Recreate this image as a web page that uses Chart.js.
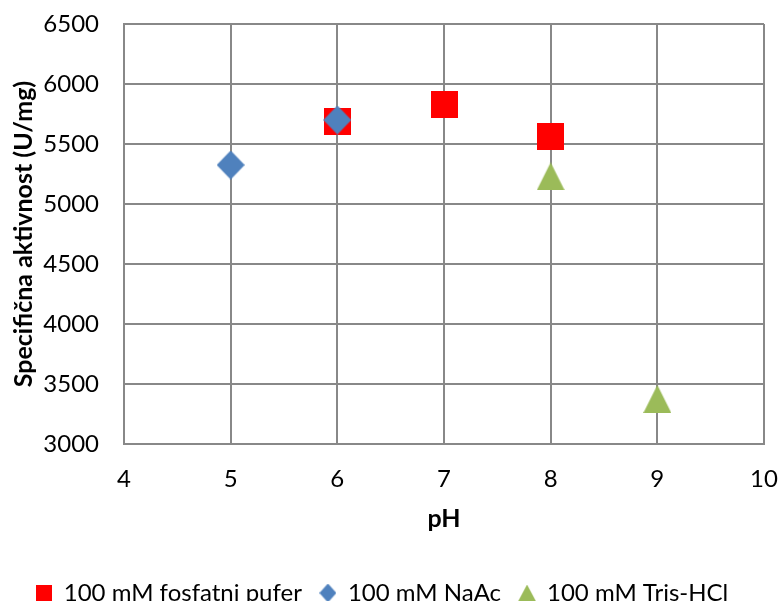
<!DOCTYPE html>
<html>
<head>
<meta charset="utf-8">
<title>Specifična aktivnost vs pH</title>
<script src="https://cdn.jsdelivr.net/npm/chart.js@4.4.0/dist/chart.umd.min.js"></script>
<style>
    html, body { margin: 0; padding: 0; background: #fff; }
    #wrap { width: 779px; height: 601px; }
</style>
</head>
<body>
<div id="wrap"><canvas id="chart" width="779" height="601"></canvas></div>
<script>
// ------------------------------------------------------------------
// Data
// ------------------------------------------------------------------
var seriesNames = ['100 mM fosfatni pufer', '100 mM NaAc', '100 mM Tris-HCl'];

var phosphatePh = [6, 7, 8];
var phosphateActivity = [5690, 5830, 5565];

var naacPh = [5, 6];
var naacActivity = [5325, 5700];

var trisPh = [8, 9];
var trisActivity = [5230, 3375];

var xTicks = [4, 5, 6, 7, 8, 9, 10];
var yTicks = [3000, 3500, 4000, 4500, 5000, 5500, 6000, 6500];

var gridColor = '#888888';
var fontFamily = 'Lato, "Open Sans", sans-serif';

/**
 * Draw a marker (Excel style) into a small canvas used as point style
 *
 * @param string shape
 * @param string color
 * @param int w
 * @param int h
 */
function makeMarker(shape, color, w, h) {
    var c = document.createElement('canvas');
    c.width = w;
    c.height = h;
    var ctx = c.getContext('2d');
    ctx.fillStyle = color;
    ctx.beginPath();
    if (shape === 'square') {
        ctx.rect(0, 0, w, h);
    } else if (shape === 'diamond') {
        ctx.moveTo(w / 2, 0);
        ctx.lineTo(w, h / 2);
        ctx.lineTo(w / 2, h);
        ctx.lineTo(0, h / 2);
        ctx.closePath();
    } else {
        ctx.moveTo(w / 2, 0);
        ctx.lineTo(w, h);
        ctx.lineTo(0, h);
        ctx.closePath();
    }
    ctx.fill();
    return c;
}

function toPoints(xs, ys) {
    return xs.map(function (x, i) { return { x: x, y: ys[i] }; });
}

var colors = ['#ff0000', '#4f81bd', '#9bbb59'];

var plotMarkers = [
    makeMarker('square', colors[0], 27, 27),
    makeMarker('diamond', colors[1], 28, 29),
    makeMarker('triangle', colors[2], 28, 28)
];
var legendMarkers = [
    makeMarker('square', colors[0], 16, 16),
    makeMarker('diamond', colors[1], 17, 19),
    makeMarker('triangle', colors[2], 18, 17)
];

var datasets = [
    { label: seriesNames[0], data: toPoints(phosphatePh, phosphateActivity), pointStyle: plotMarkers[0], order: 3 },
    { label: seriesNames[1], data: toPoints(naacPh, naacActivity), pointStyle: plotMarkers[1], order: 2 },
    { label: seriesNames[2], data: toPoints(trisPh, trisActivity), pointStyle: plotMarkers[2], order: 1 }
];

new Chart(document.getElementById('chart').getContext('2d'), {
    type: 'scatter',
    data: { datasets: datasets },
    options: {
        responsive: false,
        animation: false,
        devicePixelRatio: 1,
        layout: { padding: { top: 24, right: 15, left: 0, bottom: -14 } },
        plugins: {
            tooltip: { enabled: false },
            legend: {
                position: 'bottom',
                labels: {
                    usePointStyle: true,
                    pointStyleWidth: 16,
                    padding: 18,
                    color: '#000',
                    font: { family: fontFamily, size: 24 },
                    generateLabels: function (chart) {
                        return chart.data.datasets.map(function (ds, i) {
                            return {
                                text: ds.label,
                                pointStyle: legendMarkers[i],
                                fillStyle: colors[i],
                                strokeStyle: colors[i],
                                lineWidth: 0,
                                hidden: false,
                                datasetIndex: i
                            };
                        });
                    }
                }
            }
        },
        scales: {
            x: {
                type: 'linear',
                min: 4,
                max: 10,
                afterBuildTicks: function (scale) {
                    scale.ticks = xTicks.map(function (v) { return { value: v }; });
                },
                afterFit: function (scale) {
                    scale.height = 119;
                    scale.paddingLeft = 0;
                    scale.paddingRight = 0;
                },
                grid: { color: gridColor, lineWidth: 2, drawTicks: false },
                border: { color: gridColor, width: 2 },
                ticks: {
                    color: '#000',
                    padding: 21,
                    font: { family: fontFamily, size: 24 },
                    callback: function (v) { return String(v); }
                },
                title: {
                    display: true,
                    text: 'pH',
                    color: '#000',
                    padding: { top: 0, bottom: 29 },
                    font: { family: fontFamily, size: 25, weight: 'bold' }
                }
            },
            y: {
                type: 'linear',
                min: 3000,
                max: 6500,
                afterBuildTicks: function (scale) {
                    scale.ticks = yTicks.map(function (v) { return { value: v }; });
                },
                afterFit: function (scale) {
                    scale.width = 124;
                    scale.paddingTop = 0;
                    scale.paddingBottom = 0;
                },
                grid: { color: gridColor, lineWidth: 2, drawTicks: false },
                border: { color: gridColor, width: 2 },
                ticks: {
                    color: '#000',
                    padding: 25,
                    font: { family: fontFamily, size: 24 },
                    callback: function (v) { return String(v); }
                },
                title: {
                    display: true,
                    text: 'Specifična aktivnost (U/mg)',
                    color: '#000',
                    padding: { top: 9, bottom: 0 },
                    font: { family: fontFamily, size: 25, weight: 'bold' }
                }
            }
        }
    }
});
</script>
</body>
</html>
